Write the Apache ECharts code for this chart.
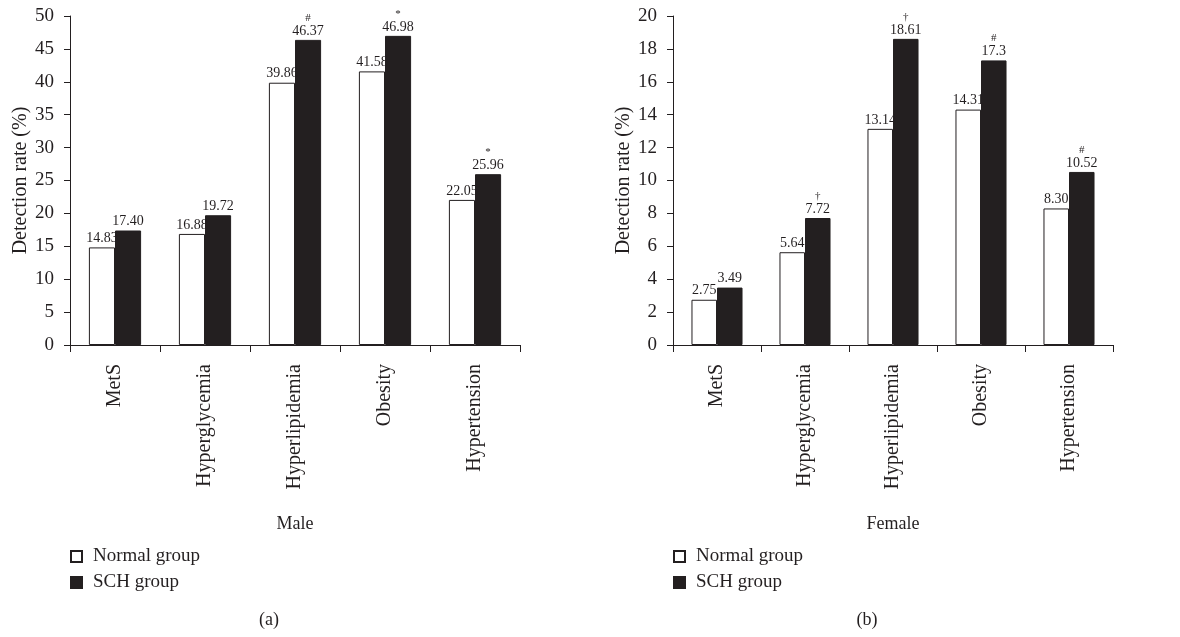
<!DOCTYPE html>
<html>
<head>
<meta charset="utf-8">
<script src="https://cdn.jsdelivr.net/npm/echarts@6/dist/echarts.min.js"></script>
<style>
  html, body { margin: 0; padding: 0; background: #fff; }
  #chart { width: 1180px; height: 637px; }
</style>
</head>
<body>
<div id="chart"></div>
<script>
var categories = ['MetS', 'Hyperglycemia', 'Hyperlipidemia', 'Obesity', 'Hypertension'];

// label text kept as printed in the figure
var maleNormal = ['14.83', '16.88', '39.86', '41.58', '22.05'];
var maleSCH = ['17.40', '19.72', '46.37', '46.98', '25.96'];
var maleMarks = ['', '', '#', '*', '*'];

var femaleNormal = ['2.75', '5.64', '13.14', '14.31', '8.30'];
var femaleSCH = ['3.49', '7.72', '18.61', '17.3', '10.52'];
var femaleMarks = ['', '†', '†', '#', '#'];

var maleTicks = { max: 50, interval: 5 };
var femaleTicks = { max: 20, interval: 2 };

var ink = '#231f20';
var serif = '"Liberation Serif", "DejaVu Serif", serif';

var myChart = echarts.init(document.getElementById('chart'));

function makeLabel(texts, marks){
    return {
        show: true,
        position: 'top',
        distance: 2,
        color: ink,
        fontFamily: serif,
        fontSize: 14,
        formatter: function(p){
            var m = marks ? marks[p.dataIndex] : '';
            if (m) return '{m|' + m + '}\n' + texts[p.dataIndex];
            return texts[p.dataIndex];
        },
        rich: {
            m: { fontSize: 11, fontFamily: serif, color: ink, lineHeight: 12 }
        }
    };
}

function xAxisFor(idx, name){
    return {
        type: 'category',
        gridIndex: idx,
        data: categories,
        name: name,
        nameLocation: 'middle',
        nameGap: 170,
        nameTextStyle: { color: ink, fontFamily: serif, fontSize: 18 },
        axisLine: { lineStyle: { color: ink, width: 1 } },
        axisTick: { show: true, length: 7, lineStyle: { color: ink } },
        axisLabel: { rotate: 90, color: ink, fontFamily: serif, fontSize: 20, margin: 19, interval: 0 },
        splitLine: { show: false }
    };
}

function yAxisFor(idx, ticks){
    return {
        type: 'value',
        gridIndex: idx,
        min: 0,
        max: ticks.max,
        interval: ticks.interval,
        name: 'Detection rate (%)',
        nameLocation: 'middle',
        nameRotate: 90,
        nameGap: 38,
        nameTextStyle: { color: ink, fontFamily: serif, fontSize: 20 },
        axisLine: { show: true, lineStyle: { color: ink, width: 1 } },
        axisTick: { show: true, length: 6, lineStyle: { color: ink } },
        axisLabel: { color: ink, fontFamily: serif, fontSize: 19, margin: 16 },
        splitLine: { show: false }
    };
}

function barSeries(name, idx, texts, marks, filled){
    return {
        name: name,
        type: 'bar',
        xAxisIndex: idx,
        yAxisIndex: idx,
        data: texts.map(function(t){ return parseFloat(t); }),
        barGap: '0%',
        barCategoryGap: '42%',
        itemStyle: {
            color: filled ? ink : '#ffffff',
            borderColor: ink,
            borderWidth: 1
        },
        label: makeLabel(texts, marks)
    };
}

function legendFor(left){
    return {
        orient: 'vertical',
        left: left,
        top: 542,
        itemWidth: 11,
        itemHeight: 11,
        itemGap: 7,
        icon: 'rect',
        selectedMode: false,
        data: ['Normal group', 'SCH group'],
        textStyle: { color: ink, fontFamily: serif, fontSize: 19, padding: [0, 0, 0, 6] }
    };
}

var option = {
    backgroundColor: '#ffffff',
    animation: false,
    title: [
        { text: '(a)', left: 264, top: 606, textAlign: 'center',
          textStyle: { color: ink, fontFamily: serif, fontSize: 18, fontWeight: 'normal' } },
        { text: '(b)', left: 862, top: 606, textAlign: 'center',
          textStyle: { color: ink, fontFamily: serif, fontSize: 18, fontWeight: 'normal' } }
    ],
    legend: [legendFor(65), legendFor(668)],
    grid: [
        { left: 70, right: 660, top: 16, bottom: 292 },
        { left: 673, right: 67, top: 16, bottom: 292 }
    ],
    xAxis: [xAxisFor(0, 'Male'), xAxisFor(1, 'Female')],
    yAxis: [yAxisFor(0, maleTicks), yAxisFor(1, femaleTicks)],
    series: [
        barSeries('Normal group', 0, maleNormal, null, false),
        barSeries('SCH group', 0, maleSCH, maleMarks, true),
        barSeries('Normal group', 1, femaleNormal, null, false),
        barSeries('SCH group', 1, femaleSCH, femaleMarks, true)
    ]
};

myChart.setOption(option);
</script>
</body>
</html>
